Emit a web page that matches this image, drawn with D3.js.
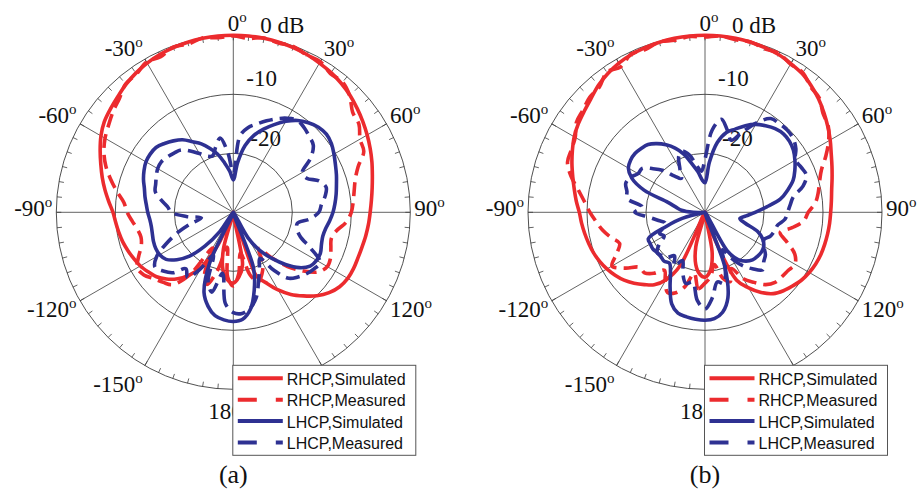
<!DOCTYPE html>
<html><head><meta charset="utf-8">
<script src="https://cdn.jsdelivr.net/npm/d3@7"></script>
<style>
html,body{margin:0;padding:0;background:#fff;}
svg{display:block;}
</style></head>
<body>
<svg id="chart" width="920" height="491"></svg>
<script>
// Azimuth grid (degrees, clockwise from boresight) shared by every pattern cut
const angles = d3.range(-180, 180, 5);
const ringLevels = [0, -10, -20];
// 150 deg sits underneath the legend box, so it is not labelled
const angleTickLabels = [0, 30, 60, 90, 120, 180, -150, -120, -90, -60, -30];
const seriesNames = ["RHCP,Simulated", "RHCP,Measured", "LHCP,Simulated", "LHCP,Measured"];
const panelCaptions = ["(a)", "(b)"];

// Panel (a) normalized gain, dB, one value per entry of `angles` (-180 ... 175)
const aRhcpSim = [-18,-18.5,-20,-23.5,-30,-24,-19.5,-17,-15.3,-14,-13,-12.4,-11.8,-11.4,-11.0,-10.6,-10.3,-10.0,
  -9.6,-8.8,-7.9,-7.0,-6.1,-5.1,-4.1,-3.3,-2.8,-2.3,-1.7,-1.2,-0.8,-0.5,-0.3,-0.15,-0.05,0,
  0,0,-0.05,-0.15,-0.3,-0.5,-0.8,-1.1,-1.5,-2.0,-2.6,-3.2,-3.8,-4.4,-5.0,-5.6,-6.1,-6.5,
  -6.8,-7.0,-7.2,-7.4,-7.5,-7.5,-7.6,-8.0,-8.8,-10,-11.5,-13,-14.8,-16.8,-18.5,-30,-21,-19];
const aRhcpMeas = [-17.5,-19,-24,-20,-17,-18.5,-23,-17,-14,-13.2,-12.5,-11.5,-11.2,-12.3,-13.4,-13.8,-13.5,-12.8,
  -12,-11.4,-10,-8.5,-7,-5.8,-4.9,-4.2,-3.4,-2.7,-1.6,-1.4,-0.6,-0.9,-0.2,-0.5,0,-0.3,
  -0.1,-0.4,0,-0.3,-0.1,-0.6,-0.5,-1.3,-1.2,-2.1,-3.6,-4.0,-5.2,-5.6,-7.5,-8.6,-9.2,-9.6,
  -10,-10.8,-12.2,-12.8,-12.4,-11.8,-11.6,-12.4,-14.5,-17,-20,-22.5,-20,-18.5,-17.5,-19,-23,-19.5];
const aLhcpSim = [-11.5,-11.7,-12.2,-13.5,-15.5,-20.5,-30,-26,-22.5,-19.5,-17.5,-16.1,-15.6,-15.5,-15.6,-15.8,-15.9,-15.8,
  -15.5,-15.2,-14.8,-14.4,-13.8,-13.3,-12.9,-12.8,-12.9,-13.5,-14.2,-15,-16.2,-17.2,-18.5,-19.8,-21.5,-23,
  -24.5,-21.5,-18.5,-16.5,-15,-13.6,-12.2,-11,-10.2,-9.6,-9.4,-9.7,-10.3,-10.9,-11.4,-11.9,-12.3,-12.7,
  -13.1,-13.6,-14.1,-14.3,-14.1,-13.7,-13.7,-14.1,-15.4,-17.5,-19.8,-22,-25,-30,-20,-16.3,-13.3,-11.8];
const aLhcpMeas = [-13,-14.5,-19.5,-16,-17.5,-22,-19,-16.5,-17.5,-15.5,-14.5,-13.8,-15,-17.5,-20,-22.5,-24.5,-22,
  -19.5,-18.8,-17.5,-16.3,-16,-15.6,-15.2,-15.1,-15.4,-15.8,-16.2,-17.3,-18.5,-19.5,-19.8,-18.5,-17.2,-20,
  -23.5,-17,-15.4,-14.5,-13.5,-12.5,-11.6,-11,-11.3,-11.8,-12.3,-14,-16.5,-16.3,-14.5,-13.7,-14.2,-15,
  -15.5,-17,-19,-18.8,-17.9,-15.5,-13,-13.3,-13.8,-14.5,-15.4,-18,-21,-19.5,-17.5,-15,-13.5,-12.8];

// Panel (b) normalized gain, dB
const bRhcpSim = [-19,-19.5,-21,-24,-30,-20,-16.8,-15,-14,-13,-12.1,-11.4,-10.8,-10.3,-9.9,-9.6,-9.3,-9.0,
  -8.7,-8.1,-7.5,-6.8,-6.0,-5.2,-4.4,-3.8,-3.3,-2.7,-1.9,-1.3,-0.8,-0.5,-0.3,-0.15,-0.05,0,
  0,0,-0.05,-0.15,-0.3,-0.5,-0.9,-1.3,-2.0,-2.8,-3.7,-4.6,-5.5,-6.4,-7.1,-7.7,-8.2,-8.5,
  -8.7,-8.8,-8.9,-9.0,-9.1,-9.3,-9.6,-10,-10.6,-11.2,-12,-13.4,-15.2,-17.3,-25,-30,-23,-20];
const bRhcpMeas = [-18,-17,-19.5,-17,-15.5,-15,-16.5,-18,-16.5,-15.5,-15.5,-13.5,-11.8,-13.5,-14.6,-13.5,-12.4,-11.5,
  -10.5,-9.5,-8.2,-6.5,-5.2,-5.0,-4.6,-3.4,-3.0,-2.4,-2.2,-1.0,-1.5,-0.4,-0.6,-0.1,-0.4,-0.1,
  -0.3,0,-0.3,-0.1,-0.5,-0.3,-1.0,-1.1,-2.2,-2.6,-3.9,-4.5,-5.8,-7.4,-9.0,-9.9,-10.5,-11.2,
  -12.5,-13.2,-15,-16.8,-15.2,-13.2,-12.4,-12.8,-13,-13.2,-14,-15.5,-17,-19.5,-17.5,-18.5,-21,-19];
const bLhcpSim = [-11.7,-11.8,-12.0,-12.3,-13.5,-16,-18.3,-19.5,-19.2,-19.4,-19.4,-19.2,-19.3,-19.4,-23,-26,-30,-30,
  -28,-26,-25,-23.5,-19,-16.3,-15,-14.6,-14.5,-14.7,-15,-15.8,-16.8,-18,-19.5,-21.5,-23,-24.5,
  -25,-21.5,-18,-16,-15,-13.8,-12.8,-12.1,-11.5,-11.2,-11.3,-11.7,-12.4,-13.2,-14.1,-15.5,-17.0,-19.5,
  -21.5,-23,-24,-23,-20.5,-19.2,-18.5,-18.3,-18.4,-18.6,-19.2,-20.2,-22.5,-30,-20.2,-15,-12.8,-11.9];
const bLhcpMeas = [-13.6,-15,-18,-17.5,-19,-21,-19.5,-21,-20,-19.6,-19.4,-20.5,-22,-21.5,-22.5,-23,-22,-20.5,
  -18.1,-19.3,-16.6,-16.3,-15.7,-16,-16.9,-17,-18.5,-20,-22,-23,-21.5,-19.5,-19,-20,-22,-23,
  -21,-16,-14,-15.5,-17,-15,-12.5,-10.6,-10.4,-10.3,-10.5,-11.2,-12.3,-12,-11.7,-12.8,-14.8,-15.5,
  -16,-16.4,-17.5,-17.8,-18.2,-19,-18.5,-17.5,-17,-16.2,-17.5,-19,-21,-23,-20,-17.5,-18,-15.5];

const panels = [
  {cx: 233.3, cy: 212.3, caption: panelCaptions[0], series: [aRhcpSim, aRhcpMeas, aLhcpSim, aLhcpMeas]},
  {cx: 705, cy: 212.3, caption: panelCaptions[1], series: [bRhcpSim, bRhcpMeas, bLhcpSim, bLhcpMeas]}
];

const RED = "#EC2B2E", BLUE = "#2E3192", GRID = "#3c3c3c";
const styles = [
  {color: RED, dash: null},
  {color: RED, dash: "14,7"},
  {color: BLUE, dash: null},
  {color: BLUE, dash: "14,7"}
];

const R = 177;
const rScale = d3.scaleLinear().domain([-30, 0]).range([0, R]).clamp(true);
const rad = d => d * Math.PI / 180;
const serif = "'Liberation Serif','Times New Roman',Times,serif";
const sans = "'Liberation Sans',Arial,Helvetica,sans-serif";
const labelSize = 23;

const svg = d3.select("#chart");

const radial = d3.lineRadial()
  .angle(d => rad(d[0]))
  .radius(d => rScale(d[1]))
  .curve(d3.curveCatmullRomClosed.alpha(0.5));

panels.forEach(p => {
  const g = svg.append("g").attr("transform", `translate(${p.cx},${p.cy})`);

  // dB rings
  g.selectAll("circle.ring").data(ringLevels).join("circle")
    .attr("class", "ring")
    .attr("r", d => rScale(d))
    .attr("fill", "none").attr("stroke", GRID).attr("stroke-width", 0.9);

  // spokes every 30 degrees
  g.selectAll("line.spoke").data(d3.range(0, 360, 30)).join("line")
    .attr("class", "spoke")
    .attr("x1", 0).attr("y1", 0)
    .attr("x2", d => R * Math.sin(rad(d))).attr("y2", d => -R * Math.cos(rad(d)))
    .attr("stroke", GRID).attr("stroke-width", 0.8);

  // minor ticks every 5 degrees on the outer ring
  g.selectAll("line.tick").data(d3.range(0, 360, 5)).join("line")
    .attr("class", "tick")
    .attr("x1", d => (R - 5) * Math.sin(rad(d))).attr("y1", d => -(R - 5) * Math.cos(rad(d)))
    .attr("x2", d => R * Math.sin(rad(d))).attr("y2", d => -R * Math.cos(rad(d)))
    .attr("stroke", GRID).attr("stroke-width", 0.8);

  // angle labels, placed just outside the outer ring
  angleTickLabels.forEach(a => {
    const t = rad(a), s = Math.sin(t), c = Math.cos(t);
    let anchor = "middle", x = 4 * c;
    if (s > 0.01) { anchor = "start"; x = (R + 4) * s; }
    else if (s < -0.01) { anchor = "end"; x = (R + 4) * s; }
    const yc = -(R + 12) * c - 4 * s * s + 10 * Math.max(0, -c);
    const txt = g.append("text")
      .attr("x", x).attr("y", yc + 8)
      .attr("text-anchor", anchor)
      .attr("font-family", serif).attr("font-size", labelSize).attr("fill", "#111");
    txt.append("tspan").text(String(a));
    txt.append("tspan").attr("font-size", 15).attr("dy", -9).text("o");
  });

  // ring labels
  const ringText = [{t: "0 dB", x: 27, y: -179}, {t: "-10", x: 13, y: -126}, {t: "-20", x: 17, y: -66}];
  g.selectAll("text.ringlab").data(ringText).join("text")
    .attr("class", "ringlab")
    .attr("x", d => d.x).attr("y", d => d.y)
    .attr("font-family", serif).attr("font-size", labelSize).attr("fill", "#111")
    .text(d => d.t);

  // pattern curves
  p.series.forEach((vals, i) => {
    const pts = angles.map((a, k) => [a, vals[k]]);
    g.append("path")
      .attr("d", radial(pts))
      .attr("fill", "none")
      .attr("stroke", styles[i].color)
      .attr("stroke-width", 3.6)
      .attr("stroke-linejoin", "round")
      .attr("stroke-dasharray", styles[i].dash);
  });

  // legend
  const lg = g.append("g").attr("transform", `translate(-0.5,153)`);
  lg.append("rect").attr("width", 183).attr("height", 90)
    .attr("fill", "#fff").attr("stroke", "#555").attr("stroke-width", 1);
  seriesNames.forEach((name, i) => {
    const y = 13 + 21.4 * i;
    lg.append("line").attr("x1", 5).attr("x2", 50).attr("y1", y).attr("y2", y)
      .attr("stroke", styles[i].color).attr("stroke-width", 4)
      .attr("stroke-dasharray", styles[i].dash ? "19,19" : null);
    lg.append("text").attr("x", 54).attr("y", y + 6.5)
      .attr("font-family", sans).attr("font-size", 16).attr("fill", "#111")
      .text(name);
  });

  // caption
  g.append("text").attr("x", 0).attr("y", 483 - p.cy)
    .attr("text-anchor", "middle")
    .attr("font-family", serif).attr("font-size", 26).attr("fill", "#111")
    .text(p.caption);
});
</script>
</body></html>
